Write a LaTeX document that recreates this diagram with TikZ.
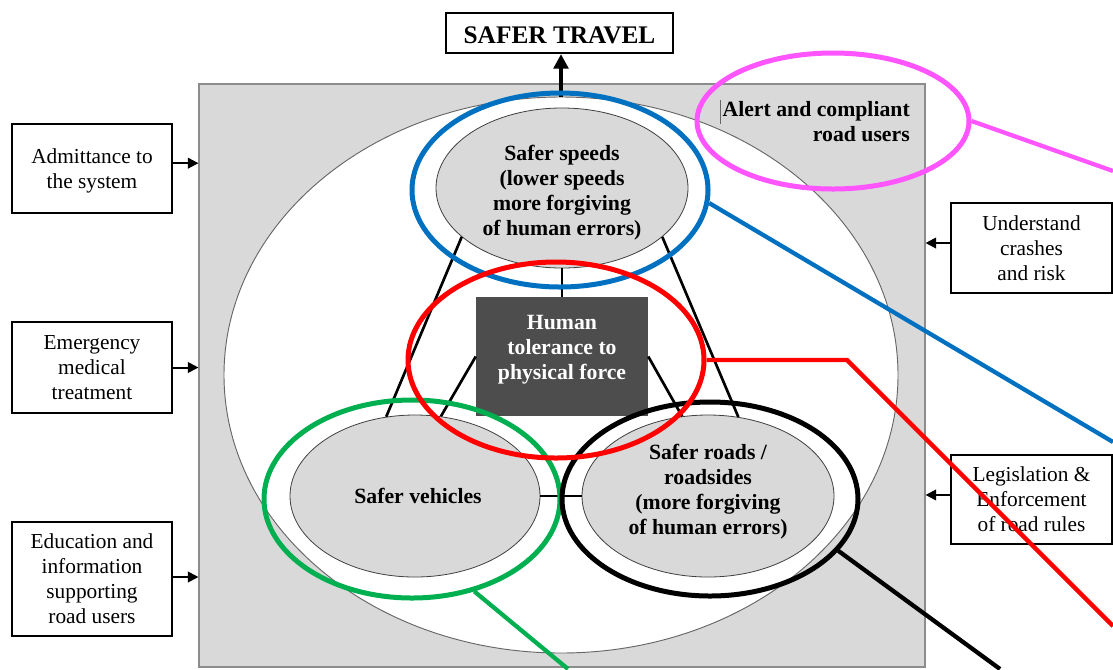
\documentclass[tikz,border=0pt]{standalone}
\usepackage{fontspec}
\setmainfont{Liberation Serif}
\usetikzlibrary{shapes.geometric,arrows.meta}
\definecolor{panelgray}{HTML}{D9D9D9}
\definecolor{corebox}{HTML}{4D4D4D}
\definecolor{hlblue}{HTML}{0070C0}
\definecolor{hlgreen}{HTML}{00B050}
\definecolor{hlpink}{HTML}{FF55FF}
\begin{document}
\begin{tikzpicture}[x=0.75pt,y=-0.75pt,
  sidebox/.style={draw, line width=1.4pt, fill=white, inner sep=0pt,
    minimum width=120pt, align=center,
    font=\fontsize{16}{18.75}\selectfont},
  pillar/.style={ellipse, draw=black!75, line width=0.6pt, fill=panelgray,
    inner sep=0pt, align=center},
  boldtext/.style={align=center, inner sep=0pt,
    font=\bfseries\fontsize{16.3}{18.75}\selectfont},
  ring/.style={ellipse, line width=3.75pt, inner sep=0pt, minimum width=222pt},
  inarrow/.style={line width=1.5pt, -{Triangle[length=8pt,width=8pt]}},
  link/.style={line width=2pt},
  lead/.style={line width=3.2pt}
]
\useasboundingbox (0,0) rectangle (1113,669);

% system panel and the outer (road user) ellipse
\node[draw=black!45, line width=0.8pt, fill=panelgray, inner sep=0pt,
  minimum width=544.5pt, minimum height=437.25pt] (sys) at (562,375.5) {};
\node[ellipse, draw=black!60, line width=0.7pt, fill=white, inner sep=0pt,
  minimum width=505.5pt, minimum height=417pt] (users) at (561,375) {};

% goal
\node[draw, line width=1.6pt, fill=white, inner sep=0pt,
  minimum width=170.25pt, minimum height=30pt] (goal) at (559.5,33) {};
\node[font=\bfseries\fontsize{19}{20}\selectfont, inner sep=0pt] (goaltext) at (559.5,35) {SAFER TRAVEL};
\draw[line width=3pt, -{Triangle[length=11pt,width=11pt]}] (users.north) -- (users.north |- goal.south);

% the three pillars and the core
\node[pillar, minimum width=189pt, minimum height=120pt] (speeds) at (562,188) {};
\node[boldtext] (speedstext) at (562,193)
  {Safer speeds\\(lower speeds\\more forgiving\\of human errors)};
\node[pillar, minimum width=187.5pt, minimum height=121.5pt] (vehicles) at (415,496) {};
\node[boldtext] (vehtext) at (418,496) {Safer vehicles};
\node[pillar, minimum width=189pt, minimum height=121.5pt] (roads) at (708,496) {};
\node[boldtext] (roadstext) at (708,492)
  {Safer roads /\\roadsides\\(more forgiving\\of human errors)};
\node[fill=corebox, inner sep=0pt, minimum width=129pt, minimum height=89.25pt]
  (core) at (562,356.5) {};
\node[boldtext, text=white] (coretext) at (562,350) {Human\\tolerance to\\physical force};

% links of the triangle
\draw[link] (speeds.206) -- (vehicles.110);
\draw[link] (speeds.334) -- (roads.69);
\draw[link] (core.west) -- (vehicles.72);
\draw[link] (core.east) -- (roads.108);
\draw[link] (speeds.south) -- (core.north);
\draw[link] (vehicles.east) -- (roads.west);

% road users label
\node[boldtext, anchor=north east, align=right] (alert) at (910,101)
  {Alert and compliant\\road users};
\draw[black!60, line width=0.5pt] ([xshift=-1.5pt,yshift=1pt]alert.north west) -- ++(0,-18pt);

% inputs to the system
\node[sidebox, minimum height=66.75pt] (admit) at (92,168.5) {};
\node[sidebox, draw=none, fill=none] (admittext) at (92,171) {Admittance to\\the system};
\node[sidebox, minimum height=68.25pt] (emerg) at (92,367.5) {Emergency\\medical\\treatment};
\node[sidebox, minimum height=85.5pt] (educ) at (92,579) {Education and\\information\\supporting\\road users};
\node[sidebox, minimum height=67.5pt, minimum width=120.75pt] (crash) at (1031.5,248) {Understand\\crashes\\and risk};
\node[sidebox, minimum height=66.75pt, minimum width=120.75pt] (legis) at (1031.5,499.5) {Legislation \&\\Enforcement\\of road rules};

\draw[inarrow] ([yshift=4pt]admit.east) -- ([yshift=4pt]admit.east -| sys.west);
\draw[inarrow] (emerg.east) -- (emerg.east -| sys.west);
\draw[inarrow] ([yshift=1.5pt]educ.east) -- ([yshift=1.5pt]educ.east -| sys.west);
\draw[inarrow] ([yshift=3.75pt]crash.west) -- ([yshift=3.75pt]crash.west -| sys.east);
\draw[inarrow] ([yshift=3.4pt]legis.west) -- ([yshift=3.4pt]legis.west -| sys.east);

% highlight rings
\node[ring, draw=hlblue, minimum height=145.5pt] (ringspeeds) at (560,190) {};
\node[ring, draw=hlgreen, minimum height=148.5pt] (ringveh) at (412,499) {};
\node[ring, draw=black, minimum height=145.5pt] (ringroads) at (710,499) {};
\node[ring, draw=red, minimum height=147pt] (ringcore) at (556,360) {};
\node[ring, draw=hlpink, minimum width=204pt, minimum height=102pt] (ringusers) at (833,121) {};

% leader lines running off to the right and bottom
\coordinate (endpink) at (1113,171);
\coordinate (endblue) at (1113,442);
\coordinate (bendred) at (847,360);
\coordinate (endred) at (1113,626);
\coordinate (endblack) at (1000,669);
\coordinate (endgreen) at (568,669);

\draw[lead, hlpink] (ringusers.east) -- (endpink);
\draw[lead, hlblue] (ringspeeds.-5) -- (endblue);
\draw[lead, red] (ringcore.east) -- (bendred) -- (endred);
\draw[lead, black] (ringroads.-22) -- (endblack);
\draw[lead, hlgreen] (ringveh.-56) -- (endgreen);
\end{tikzpicture}
\end{document}
